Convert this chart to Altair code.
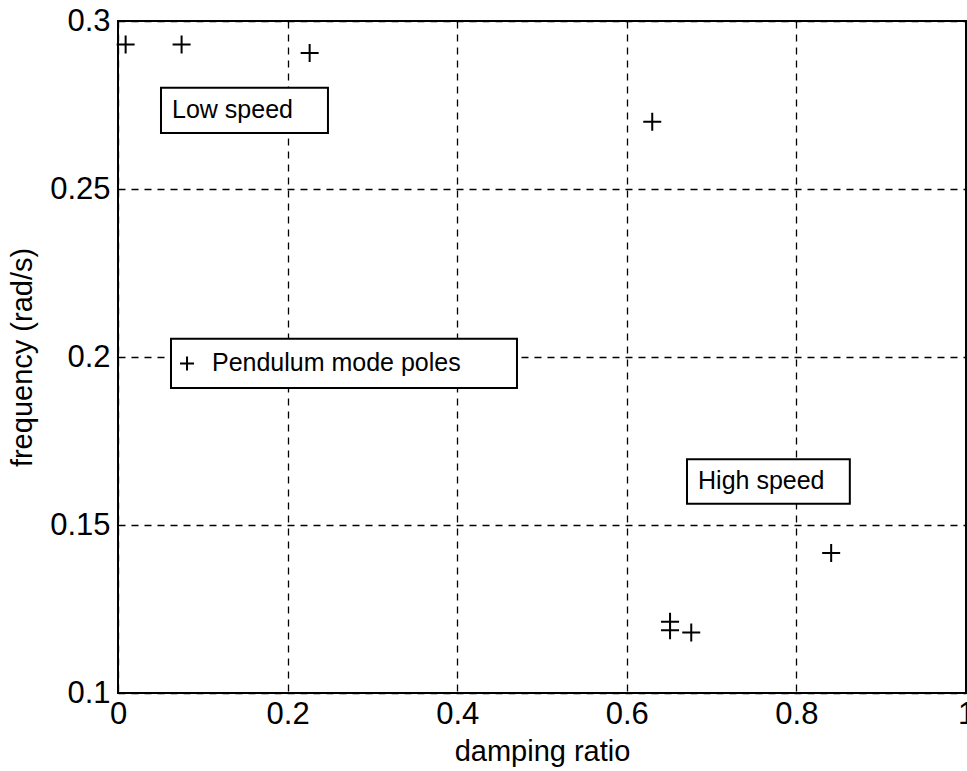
import altair as alt
import pandas as pd

# Pendulum mode poles (damping ratio, frequency rad/s)
zeta = [0.009, 0.075, 0.226, 0.630, 0.841, 0.651, 0.651, 0.676]
freq = [0.293, 0.293, 0.2905, 0.270, 0.1417, 0.1212, 0.1187, 0.118]

# annotation boxes (data coordinates)
box_x1 = [0.0507, 0.0625, 0.671]
box_x2 = [0.2476, 0.4705, 0.863]
box_y1 = [0.2801, 0.2054, 0.1696]
box_y2 = [0.2667, 0.1908, 0.1563]
txt_label = ["Low speed", "Pendulum mode poles", "High speed"]
txt_x = [0.0637, 0.1108, 0.684]
txt_y = [0.2734, 0.1981, 0.1630]
legend_mark_x = [0.0814]
legend_mark_y = [0.1981]

x_ticks = [0, 0.2, 0.4, 0.6, 0.8, 1]
y_ticks = [0.1, 0.15, 0.2, 0.25, 0.3]

FONT = "Liberation Sans Narrow, Liberation Sans, Arial"
CROSS = "M-1,0L1,0M0,-1L0,1"

pts = pd.DataFrame({"zeta": zeta, "freq": freq})
boxes = pd.DataFrame({"x1": box_x1, "x2": box_x2, "y1": box_y1, "y2": box_y2})
texts = pd.DataFrame({"x": txt_x, "y": txt_y, "label": txt_label})
legm = pd.DataFrame({"x": legend_mark_x, "y": legend_mark_y})

xscale = alt.Scale(domain=[0, 1], nice=False, zero=False)
yscale = alt.Scale(domain=[0.1, 0.3], nice=False, zero=False)

xaxis = alt.Axis(values=x_ticks, format="~g", title="damping ratio", grid=True,
                 gridColor="black", gridDash=[7, 6], gridWidth=1.3, gridOpacity=1,
                 domain=False, ticks=False, labelFont=FONT, labelFontSize=31,
                 labelColor="black", labelPadding=6, labelFlush=False,
                 titleFont="Liberation Sans", titleFontSize=29, titleFontWeight="normal",
                 titleColor="black", titlePadding=8)
yaxis = alt.Axis(values=y_ticks, format="~g", title="frequency (rad/s)", grid=True,
                 gridColor="black", gridDash=[7, 6], gridWidth=1.3, gridOpacity=1,
                 domain=False, ticks=False, labelFont=FONT, labelFontSize=31,
                 labelColor="black", labelPadding=8, labelFlush=False,
                 titleFont="Liberation Sans", titleFontSize=29, titleFontWeight="normal",
                 titleColor="black", titleX=-96, titleY=336, titleAngle=-90,
                 titleAlign="center", titleBaseline="middle")

rect = alt.Chart(boxes).mark_rect(fill="white", stroke="black", strokeWidth=2).encode(
    x=alt.X("x1:Q", scale=xscale, axis=xaxis),
    x2="x2:Q",
    y=alt.Y("y1:Q", scale=yscale, axis=yaxis),
    y2="y2:Q",
)

text = alt.Chart(texts).mark_text(align="left", baseline="middle", font="Liberation Sans",
                                  fontSize=25, color="black").encode(
    x=alt.X("x:Q", scale=xscale, axis=xaxis),
    y=alt.Y("y:Q", scale=yscale, axis=yaxis),
    text="label:N",
)

legmark = alt.Chart(legm).mark_point(shape=CROSS, size=196, filled=False, stroke="black",
                                     strokeWidth=2, opacity=1).encode(
    x=alt.X("x:Q", scale=xscale, axis=xaxis),
    y=alt.Y("y:Q", scale=yscale, axis=yaxis),
)

points = alt.Chart(pts).mark_point(shape=CROSS, size=324, filled=False, stroke="black",
                                   strokeWidth=2, opacity=1).encode(
    x=alt.X("zeta:Q", scale=xscale, axis=xaxis),
    y=alt.Y("freq:Q", scale=yscale, axis=yaxis),
)

chart = alt.layer(rect, text, legmark, points).properties(
    width=848, height=672,
    padding={"left": 118, "top": 21, "right": 1, "bottom": 78},
    autosize="none",
    background="white",
).configure_view(stroke="black", strokeWidth=2)

chart.save("out.html", embed_options={"renderer": "svg", "actions": False})
